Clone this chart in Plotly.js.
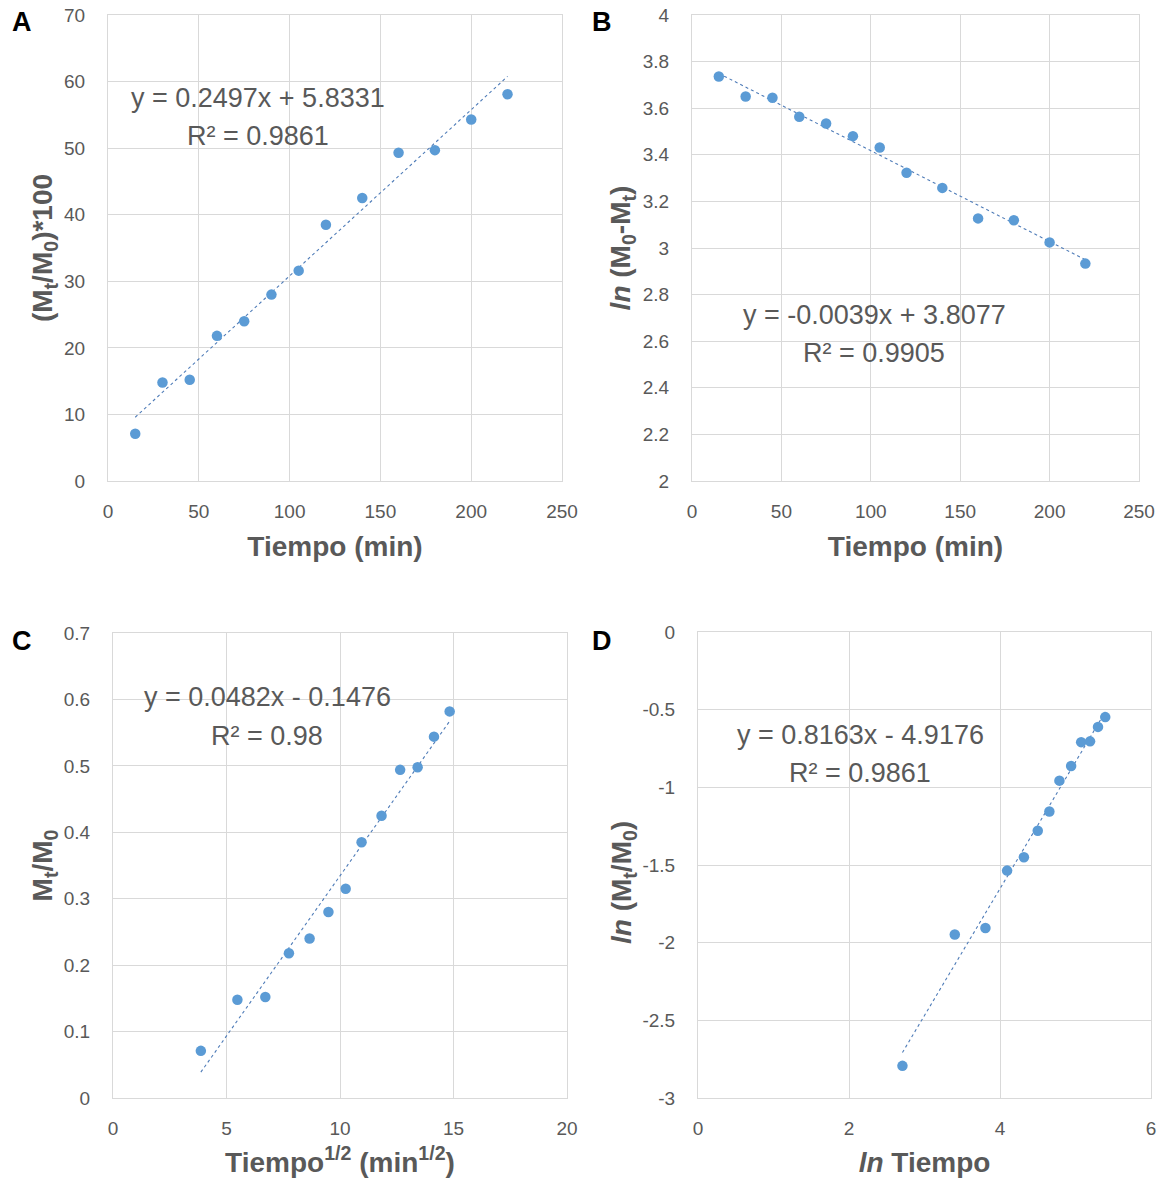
<!DOCTYPE html>
<html>
<head>
<meta charset="utf-8">
<script src="https://cdn.plot.ly/plotly-3.0.1.min.js"></script>
<style>html,body{margin:0;padding:0;background:#fff;}#chart{width:1164px;height:1185px;}</style>
</head>
<body>
<div id="chart"></div>
<script>
// ---- Data ----
const tiempoA = [15, 30, 45, 60, 75, 90, 105, 120, 140, 160, 180, 200, 220];
const liberadoA = [7.1, 14.8, 15.2, 21.8, 24.0, 28.0, 31.6, 38.5, 42.5, 49.3, 49.7, 54.3, 58.1];

const tiempoB = [15, 30, 45, 60, 75, 90, 105, 120, 140, 160, 180, 200, 220];
const lnRestanteB = [3.736, 3.650, 3.645, 3.563, 3.534, 3.480, 3.431, 3.323, 3.258, 3.127, 3.119, 3.024, 2.933];

const raizTiempoC = [3.87, 5.48, 6.71, 7.75, 8.66, 9.49, 10.25, 10.95, 11.83, 12.65, 13.42, 14.14, 14.83];
const fraccionC = [0.071, 0.148, 0.152, 0.218, 0.240, 0.280, 0.315, 0.385, 0.425, 0.494, 0.498, 0.544, 0.582];

const lnTiempoD = [2.708, 3.401, 3.807, 4.094, 4.317, 4.500, 4.654, 4.787, 4.942, 5.075, 5.193, 5.298, 5.394];
const lnFraccionD = [-2.793, -1.947, -1.906, -1.536, -1.450, -1.279, -1.156, -0.957, -0.863, -0.709, -0.704, -0.611, -0.548];

// Tick labels of panel D's y axis (hyphen minus, as in the reference)
const tickValsD = [0, -0.5, -1, -1.5, -2, -2.5, -3];
const tickTextD = ['0', '-0.5', '-1', '-1.5', '-2', '-2.5', '-3'];

// Trendline fits shown on the chart
const fitA = {slope: 0.2497, intercept: 5.8331, r2: '0.9861', eq: 'y = 0.2497x + 5.8331'};
const fitB = {slope: -0.0039, intercept: 3.8077, r2: '0.9905', eq: 'y = -0.0039x + 3.8077'};
const fitC = {slope: 0.0482, intercept: -0.1476, r2: '0.98', eq: 'y = 0.0482x - 0.1476'};
const fitD = {slope: 0.8163, intercept: -4.9176, r2: '0.9861', eq: 'y = 0.8163x - 4.9176'};

const panelLabels = ['A', 'B', 'C', 'D'];

// ---- Layout helpers ----
const W = 1164, H = 1185;
const fx = px => px / W;
const fy = py => 1 - py / H;

const markerColor = '#5B9BD5';
const trendColor = '#4F7CB8';
const textGray = '#595959';
const gridGray = '#D9D9D9';
const FONT = 'Liberation Sans, Arial, sans-serif';

function scatter(x, y, xa, ya) {
  return {x: x, y: y, xaxis: xa, yaxis: ya, type: 'scatter', mode: 'markers',
    marker: {color: markerColor, size: 10.5}, hoverinfo: 'x+y', showlegend: false};
}
function trend(x, fit, xa, ya) {
  const xs = [Math.min(...x), Math.max(...x)];
  const ys = xs.map(v => fit.slope * v + fit.intercept);
  return {x: xs, y: ys, xaxis: xa, yaxis: ya, type: 'scatter', mode: 'lines',
    line: {color: trendColor, width: 1.1, dash: 'dot'}, hoverinfo: 'skip', showlegend: false};
}

const data = [
  trend(tiempoA, fitA, 'x', 'y'), scatter(tiempoA, liberadoA, 'x', 'y'),
  trend(tiempoB, fitB, 'x2', 'y2'), scatter(tiempoB, lnRestanteB, 'x2', 'y2'),
  trend(raizTiempoC, fitC, 'x3', 'y3'), scatter(raizTiempoC, fraccionC, 'x3', 'y3'),
  trend(lnTiempoD, fitD, 'x4', 'y4'), scatter(lnTiempoD, lnFraccionD, 'x4', 'y4')
];

const titleFont = {family: FONT, size: 28, color: textGray, weight: 'bold'};

function xAxis(domain, range, dtick, title, anchor, standoff) {
  return {domain: domain, range: range, dtick: dtick, tick0: 0, anchor: anchor,
    showgrid: true, gridcolor: gridGray, gridwidth: 1,
    showline: true, linecolor: gridGray, linewidth: 1, mirror: true,
    zeroline: false, ticks: '', ticklabelstandoff: 13,
    tickfont: {family: FONT, size: 19, color: textGray},
    title: {text: title, standoff: standoff, font: titleFont}};
}
function yAxis(domain, range, dtick, title, anchor, standoff) {
  return {domain: domain, range: range, dtick: dtick, tick0: 0, anchor: anchor,
    showgrid: true, gridcolor: gridGray, gridwidth: 1,
    showline: true, linecolor: gridGray, linewidth: 1, mirror: true,
    zeroline: false, ticks: '', ticklabelstandoff: 18,
    tickfont: {family: FONT, size: 19, color: textGray},
    title: {text: title, standoff: standoff, font: titleFont}};
}

const yaxis4 = yAxis([fy(1098), fy(632)], [-3, 0], 0.5, '', 'x4', 0);
yaxis4.tickmode = 'array';
yaxis4.tickvals = tickValsD;
yaxis4.ticktext = tickTextD;

const layout = {
  width: W, height: H,
  margin: {l: 0, r: 0, t: 0, b: 0},
  paper_bgcolor: '#fff', plot_bgcolor: '#fff',
  font: {family: FONT, color: textGray},
  showlegend: false,
  xaxis: xAxis([fx(108), fx(562)], [0, 250], 50, 'Tiempo (min)', 'y', 15),
  yaxis: yAxis([fy(481), fy(15)], [0, 70], 10, '(M<sub>t</sub>/M<sub>0</sub>)*100', 'x', 3),
  xaxis2: xAxis([fx(692), fx(1139)], [0, 250], 50, 'Tiempo (min)', 'y2', 15),
  yaxis2: yAxis([fy(481), fy(15)], [2, 4], 0.2, '<i>ln</i> (M<sub>0</sub>-M<sub>t</sub>)', 'x2', 3),
  xaxis3: xAxis([fx(113), fx(567)], [0, 20], 5, 'Tiempo<sup>1/2</sup> (min<sup>1/2</sup>)', 'y3', 14),
  yaxis3: yAxis([fy(1098), fy(633)], [0, 0.7], 0.1, 'M<sub>t</sub>/M<sub>0</sub>', 'x3', 2),
  xaxis4: xAxis([fx(698), fx(1151)], [0, 6], 2, '<i>ln</i> Tiempo', 'y4', 14),
  yaxis4: yaxis4,
  annotations: []
};

// y title of panel D, placed as in the reference
layout.annotations.push({xref: 'paper', yref: 'paper', x: fx(623), y: fy(883),
  xanchor: 'center', yanchor: 'middle', showarrow: false, textangle: -90,
  text: '<b><i>ln</i> (M<sub>t</sub>/M<sub>0</sub>)</b>', font: {family: FONT, size: 28, color: textGray}});

// equation annotations (trendline labels)
const eqPos = [[258, 98, 136, fitA], [874, 315, 353, fitB], [267, 697, 736, fitC], [860, 735, 773, fitD]];
eqPos.forEach(p => {
  layout.annotations.push({xref: 'paper', yref: 'paper', x: fx(p[0]), y: fy(p[1]),
    xanchor: 'center', yanchor: 'middle', showarrow: false,
    text: p[3].eq, font: {family: FONT, size: 27, color: textGray}});
  layout.annotations.push({xref: 'paper', yref: 'paper', x: fx(p[0]), y: fy(p[2]),
    xanchor: 'center', yanchor: 'middle', showarrow: false,
    text: 'R² = ' + p[3].r2, font: {family: FONT, size: 27, color: textGray}});
});

// panel letters
const letterPos = [[22, 22], [602, 22], [22, 641], [602, 641]];
panelLabels.forEach((t, i) => {
  layout.annotations.push({xref: 'paper', yref: 'paper', x: fx(letterPos[i][0]), y: fy(letterPos[i][1]),
    xanchor: 'center', yanchor: 'middle', showarrow: false, text: '<b>' + t + '</b>',
    font: {family: FONT, size: 27, color: '#000'}});
});

Plotly.newPlot('chart', data, layout, {staticPlot: true, displayModeBar: false});
</script>
</body>
</html>
